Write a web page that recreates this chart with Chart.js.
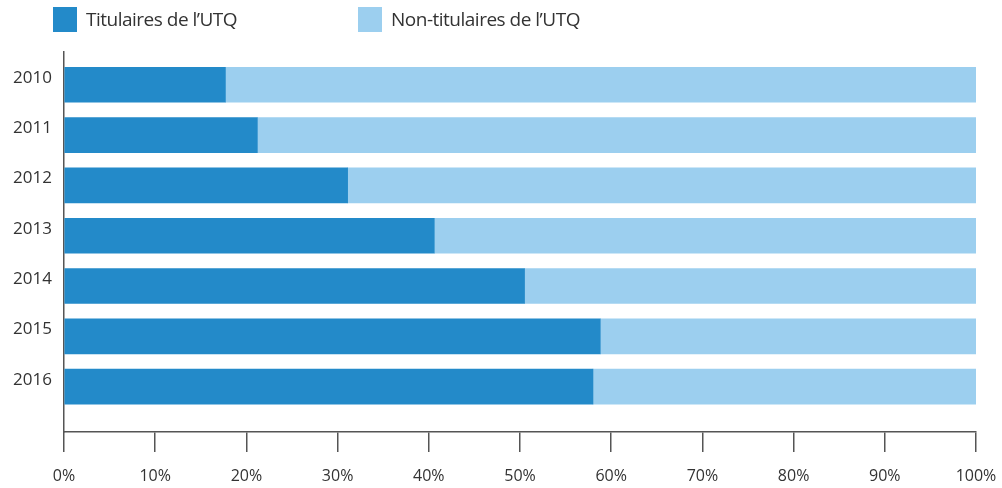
<!DOCTYPE html>
<html lang="fr">
<head>
    <meta charset="UTF-8">
    <title>Titulaires de l'UTQ</title>
    <script src="https://cdn.jsdelivr.net/npm/chart.js"></script>
    <style>
        html, body {
            margin: 0;
            padding: 0;
            background: #ffffff;
        }
        .wrap {
            position: relative;
            width: 1002px;
            height: 488px;
        }
        .legend {
            position: absolute;
            top: 0;
            left: 0;
            font-family: "Open Sans", sans-serif;
            font-size: 19px;
            letter-spacing: -0.5px;
            color: #333333;
        }
        .legend-item {
            position: absolute;
            top: 6px;
            display: flex;
            align-items: center;
            white-space: nowrap;
        }
        .legend-box {
            width: 24px;
            height: 25px;
            margin-right: 9px;
        }
    </style>
</head>
<body>
    <div class="wrap">
        <canvas id="chart" width="1002" height="488"></canvas>
        <div class="legend" id="legend"></div>
    </div>

    <script>
        // categories and values (percent)
        const years = ['2010', '2011', '2012', '2013', '2014', '2015', '2016'];
        const titulaires = [17.7, 21.2, 31.1, 40.6, 50.5, 58.8, 58.0];
        const nonTitulaires = [82.3, 78.8, 68.9, 59.4, 49.5, 41.2, 42.0];
        const xTicks = [0, 10, 20, 30, 40, 50, 60, 70, 80, 90, 100];

        const seriesNames = ['Titulaires de l\u2019UTQ', 'Non-titulaires de l\u2019UTQ'];
        const seriesColors = ['#238ac9', '#9ccfef'];

        // legend (html so the gap between the two items matches)
        const legendLeft = [53, 358];
        const legend = document.getElementById('legend');
        seriesNames.forEach(function(name, i) {
            const item = document.createElement('div');
            item.className = 'legend-item';
            item.style.left = legendLeft[i] + 'px';
            const box = document.createElement('span');
            box.className = 'legend-box';
            box.style.background = seriesColors[i];
            const txt = document.createElement('span');
            txt.textContent = name;
            item.appendChild(box);
            item.appendChild(txt);
            legend.appendChild(item);
        });

        const toPoints = arr => arr.map((v, i) => ({ x: v, y: i }));
        const axisColor = '#555555';

        new Chart(document.getElementById('chart').getContext('2d'), {
            type: 'bar',
            data: {
                datasets: [
                    {
                        label: seriesNames[0],
                        data: toPoints(titulaires),
                        backgroundColor: seriesColors[0],
                        borderWidth: 0,
                        barThickness: 35
                    },
                    {
                        label: seriesNames[1],
                        data: toPoints(nonTitulaires),
                        backgroundColor: seriesColors[1],
                        borderWidth: 0,
                        barThickness: 35
                    }
                ]
            },
            options: {
                indexAxis: 'y',
                responsive: false,
                animation: false,
                layout: {
                    padding: { top: 52, right: 26, left: 0, bottom: 0 }
                },
                scales: {
                    x: {
                        stacked: true,
                        min: 0,
                        max: 100,
                        afterBuildTicks: function(scale) {
                            scale.ticks = xTicks.map(v => ({ value: v }));
                        },
                        afterFit: function(scale) {
                            scale.height = 56;
                            scale.paddingLeft = 0;
                            scale.paddingRight = 0;
                        },
                        ticks: {
                            color: '#333333',
                            font: { family: '"Open Sans", sans-serif', size: 16 },
                            padding: 15,
                            maxRotation: 0,
                            callback: v => v + '%'
                        },
                        grid: {
                            drawOnChartArea: false,
                            drawTicks: true,
                            tickLength: 20,
                            color: axisColor,
                            lineWidth: 1.5
                        },
                        border: {
                            display: true,
                            color: axisColor,
                            width: 1.5
                        }
                    },
                    y: {
                        type: 'linear',
                        stacked: true,
                        reverse: true,
                        offset: false,
                        grace: 0,
                        bounds: 'data',
                        min: -0.65,
                        max: 6.9,
                        afterBuildTicks: function(scale) {
                            scale.ticks = years.map((_, i) => ({ value: i }));
                        },
                        afterFit: function(scale) {
                            scale.width = 64;
                            scale.paddingTop = 0;
                            scale.paddingBottom = 0;
                        },
                        ticks: {
                            color: '#333333',
                            font: { family: '"Open Sans", sans-serif', size: 17 },
                            padding: 12,
                            labelOffset: -7,
                            callback: v => years[v]
                        },
                        grid: {
                            display: false,
                            drawTicks: false,
                            offset: false
                        },
                        border: {
                            display: true,
                            color: axisColor,
                            width: 1.5
                        }
                    }
                },
                plugins: {
                    legend: { display: false },
                    tooltip: { enabled: false }
                }
            }
        });
    </script>
</body>
</html>
